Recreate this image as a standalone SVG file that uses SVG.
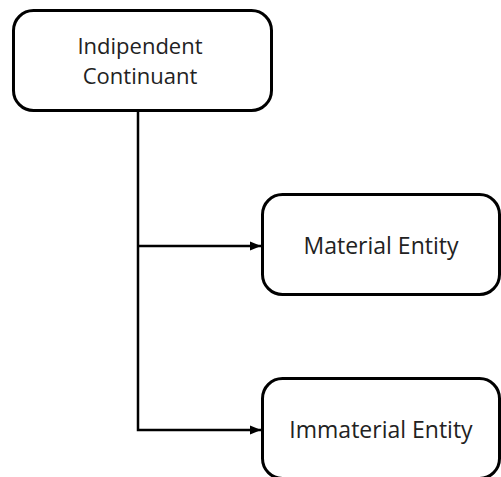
<svg xmlns="http://www.w3.org/2000/svg" width="501" height="477" viewBox="0 0 501 477">
  <style>
    .box { fill: #ffffff; stroke: #000000; stroke-width: 3; }
    .label { font-family: "Open Sans", "Liberation Sans", sans-serif; font-size: 23px; fill: #222222; text-anchor: middle; }
    .label-sm { font-size: 22px; }
    .link { fill: none; stroke: #000000; stroke-width: 2.5; }
  </style>
  <defs>
    <marker id="arrow" viewBox="0 0 10 10" refX="10" refY="5" markerWidth="4.4" markerHeight="4.4" orient="auto" markerUnits="strokeWidth">
      <path d="M0,1 L10,5 L0,9 z" fill="#000000"/>
    </marker>
  </defs>
  <rect width="501" height="477" fill="#ffffff"/>

  <g id="connectors">
    <path class="link" d="M138,111 V430 H261" marker-end="url(#arrow)"/>
    <path class="link" d="M138,246 H261" marker-end="url(#arrow)"/>
  </g>

  <g id="independent-continuant">
    <rect class="box" x="13.5" y="10.5" width="258" height="100" rx="20" ry="20"/>
    <text class="label label-sm" x="140" y="54">Indipendent</text>
    <text class="label label-sm" x="140" y="84">Continuant</text>
  </g>

  <g id="material-entity">
    <rect class="box" x="262.5" y="194.5" width="237" height="100" rx="20" ry="20"/>
    <text class="label" x="381" y="254">Material Entity</text>
  </g>

  <g id="immaterial-entity">
    <rect class="box" x="262.5" y="378.5" width="237" height="100" rx="20" ry="20"/>
    <text class="label" x="381" y="438">Immaterial Entity</text>
  </g>
</svg>
